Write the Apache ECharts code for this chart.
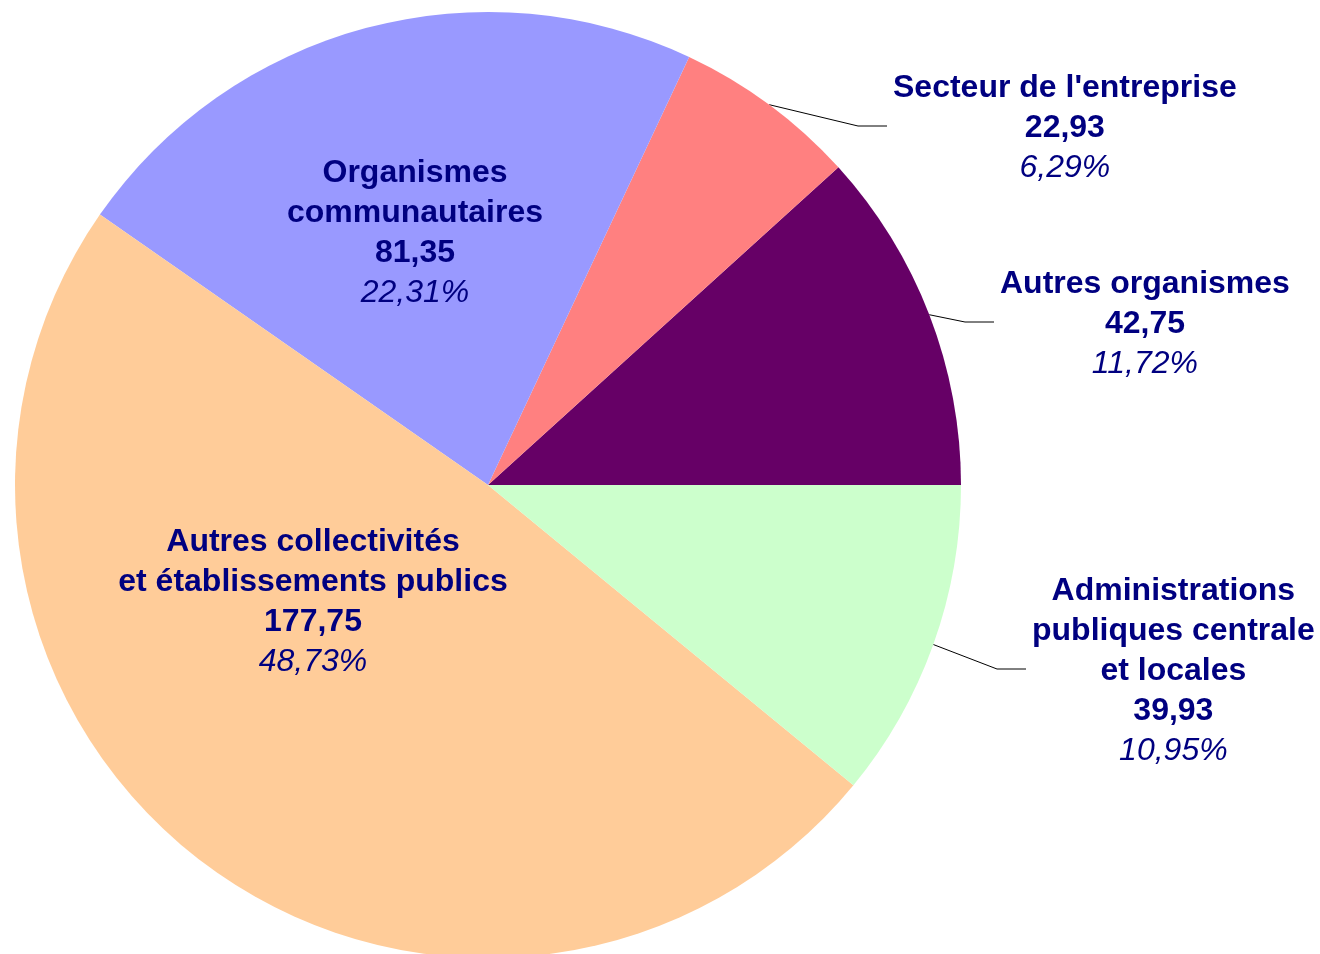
<!DOCTYPE html>
<html>
<head>
<meta charset="utf-8">
<script src="https://cdn.jsdelivr.net/npm/echarts@6/dist/echarts.min.js"></script>
<style>
  html, body { margin: 0; padding: 0; background: #fff; }
  #chart { width: 1320px; height: 954px; }
</style>
</head>
<body>
<div id="chart"></div>
<script>
const names = [
  'Autres organismes',
  "Secteur de l'entreprise",
  'Organismes\ncommunautaires',
  'Autres collectivités\net établissements publics',
  'Administrations\npubliques centrale\net locales'
]
const values = [42.75, 22.93, 81.35, 177.75, 39.93]
const percents = [11.72, 6.29, 22.31, 48.73, 10.95]
const colors = ['#660066', '#FF8080', '#9999FF', '#FFCC99', '#CCFFCC']
const inside = [false, false, true, true, false]

// label anchors: outside labels -> left edge / middle, inside labels -> center
const labelPos = [[1000, 322], [893, 126], [415, 231], [313, 600], [1032, 669]]

const fmt = (n) => n.toFixed(2).replace('.', ',')

const chart = echarts.init(document.getElementById('chart'))

const textStyle = {
  color: '#000080',
  fontFamily: '"Liberation Sans", Arial, sans-serif',
  fontSize: 32,
  lineHeight: 40,
  align: 'center'
}

const data = names.map((name, i) => ({
  name,
  value: values[i],
  itemStyle: { color: colors[i] },
  label: { position: inside[i] ? 'inside' : 'outside' },
  labelLine: { show: !inside[i] }
}))

chart.setOption({
  animation: false,
  series: [
    {
      type: 'pie',
      center: [488, 485],
      radius: 473,
      startAngle: 0,
      clockwise: false,
      avoidLabelOverlap: false,
      data,
      itemStyle: { borderWidth: 0 },
      label: {
        show: true,
        formatter: (params) => {
          const i = params.dataIndex
          const nameLines = names[i].split('\n').map((s) => `{n|${s}}`).join('\n')
          return `${nameLines}\n{v|${fmt(values[i])}}\n{p|${fmt(percents[i])}%}`
        },
        rich: {
          n: { ...textStyle, fontWeight: 'bold' },
          v: { ...textStyle, fontWeight: 'bold' },
          p: { ...textStyle, fontStyle: 'italic' }
        }
      },
      labelLine: {
        show: true,
        lineStyle: { color: '#000', width: 1 }
      },
      labelLayout: (params) => {
        const i = params.dataIndex
        const [x, y] = labelPos[i]
        if (inside[i]) {
          return { x, y: y + 2, align: 'center', verticalAlign: 'middle' }
        }
        const p0 = params.labelLinePoints ? params.labelLinePoints[0] : [x, y]
        return {
          x,
          y: y + 2,
          align: 'left',
          verticalAlign: 'middle',
          labelLinePoints: [p0, [x - 35, y], [x - 6, y]]
        }
      }
    }
  ]
})
</script>
</body>
</html>
